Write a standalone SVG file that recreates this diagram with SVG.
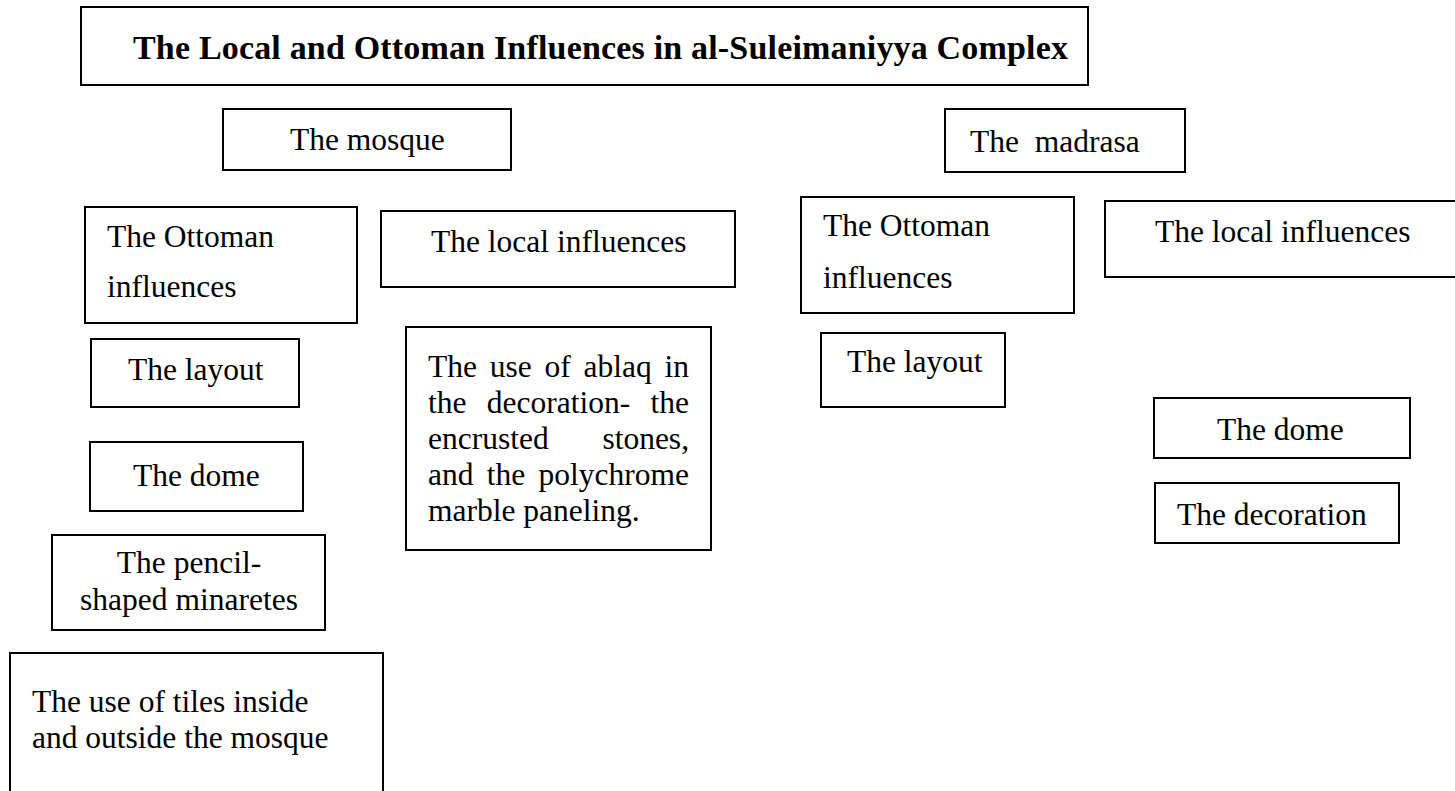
<svg xmlns="http://www.w3.org/2000/svg" width="1455" height="791" viewBox="0 0 1455 791">
<style>
.b{fill:#fff;stroke:#000;stroke-width:2}
.t{font-family:"Liberation Serif","Times New Roman",serif;font-size:31.5px;fill:#000}
.h{font-family:"Liberation Serif","Times New Roman",serif;font-size:34px;font-weight:bold;fill:#000}
</style>
<rect width="1455" height="791" fill="#fff"/>
<g id="title"><rect class="b" x="81" y="7" width="1007" height="78"/><text class="h" x="133" y="59" textLength="935">The Local and Ottoman Influences in al-Suleimaniyya Complex</text></g>
<g id="mosque"><rect class="b" x="223" y="109" width="288" height="61"/><text class="t" x="290" y="150">The mosque</text></g>
<g id="madrasa"><rect class="b" x="945" y="109" width="240" height="63"/><text class="t" x="970" y="152" xml:space="preserve">The  madrasa</text></g>
<g id="mosque-ottoman"><rect class="b" x="85" y="207" width="272" height="116"/><text class="t" x="107" y="247">The Ottoman</text><text class="t" x="107" y="297">influences</text></g>
<g id="mosque-local"><rect class="b" x="381" y="211" width="354" height="76"/><text class="t" x="431" y="252">The local influences</text></g>
<g id="mosque-layout"><rect class="b" x="91" y="339" width="208" height="68"/><text class="t" x="128" y="380">The layout</text></g>
<g id="mosque-dome"><rect class="b" x="90" y="442" width="213" height="69"/><text class="t" x="133" y="486">The dome</text></g>
<g id="mosque-minarets"><rect class="b" x="52" y="535" width="273" height="95"/><text class="t" x="189" y="573" text-anchor="middle">The pencil-</text><text class="t" x="189" y="610" text-anchor="middle">shaped minaretes</text></g>
<g id="mosque-tiles"><rect class="b" x="10" y="653" width="373" height="150"/><text class="t" x="32" y="712">The use of tiles inside</text><text class="t" x="32" y="748">and outside the mosque</text></g>
<g id="mosque-ablaq"><rect class="b" x="406" y="327" width="305" height="223"/>
<text class="t" y="377"><tspan x="428">The</tspan><tspan x="489.7">use</tspan><tspan x="544.5">of</tspan><tspan x="583.5">ablaq</tspan><tspan x="664.5">in</tspan></text>
<text class="t" y="413"><tspan x="428">the</tspan><tspan x="486.8">decoration-</tspan><tspan x="650.5">the</tspan></text>
<text class="t" y="449"><tspan x="428">encrusted</tspan></text>
<text class="t" y="449" x="689" text-anchor="end">stones,</text>
<text class="t" y="485"><tspan x="428">and</tspan><tspan x="486.8">the</tspan><tspan x="538.5">polychrome</tspan></text>
<text class="t" x="428" y="521">marble paneling.</text></g>
<g id="madrasa-ottoman"><rect class="b" x="801" y="197" width="273" height="116"/><text class="t" x="823" y="236">The Ottoman</text><text class="t" x="823" y="288">influences</text></g>
<g id="madrasa-local"><rect class="b" x="1105" y="201" width="360" height="76"/><text class="t" x="1155" y="242">The local influences</text></g>
<g id="madrasa-layout"><rect class="b" x="821" y="333" width="184" height="74"/><text class="t" x="847" y="372">The layout</text></g>
<g id="madrasa-dome"><rect class="b" x="1154" y="398" width="256" height="60"/><text class="t" x="1217" y="440">The dome</text></g>
<g id="madrasa-decoration"><rect class="b" x="1155" y="483" width="244" height="60"/><text class="t" x="1177" y="525">The decoration</text></g>
<g id="connectors"></g>
</svg>
